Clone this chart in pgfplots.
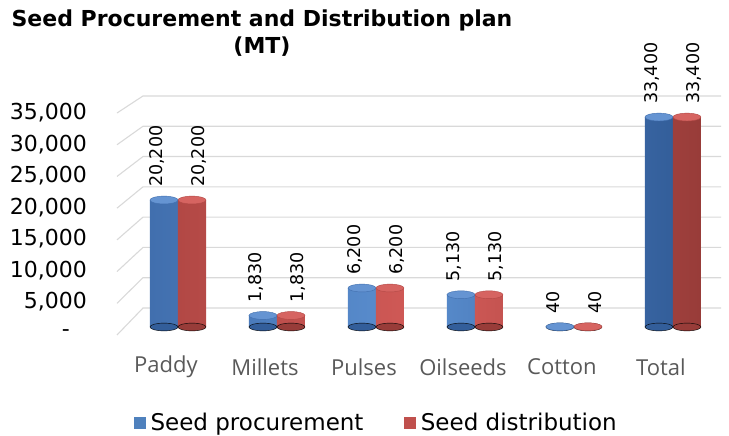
\documentclass[border=0pt]{standalone}
\usepackage{pgfplots}
\usepackage{pgfplotstable}
\pgfplotsset{compat=1.18}
\usepackage{fontspec}
\setmainfont{DejaVu Sans}
\newfontfamily\catfont{Open Sans}
\definecolor{bluemid}{HTML}{5B8FD0}
\definecolor{blueedge}{HTML}{416FAE}
\definecolor{bluedark}{HTML}{335E9A}
\definecolor{bluetop}{HTML}{6594D2}
\definecolor{bluelg}{HTML}{4F81BD}
\definecolor{redmid}{HTML}{D35B58}
\definecolor{rededge}{HTML}{B24845}
\definecolor{reddark}{HTML}{983C39}
\definecolor{redtop}{HTML}{D66461}
\definecolor{redlg}{HTML}{C0504D}
\definecolor{gridc}{HTML}{D9D9D9}
\definecolor{labelgrey}{HTML}{595959}

\pgfplotstableread{
x base proc dist
0 0 20200 20200
1 0 1830 1830
2 0 6200 6200
3 0 5130 5130
4 0 40 40
5 0 33400 33400
}\seeddata

\begin{document}
\begin{tikzpicture}[x=1pt,y=1pt]
\useasboundingbox (0,0) rectangle (729,436);
\foreach \v in {0,...,7} {
  \pgfmathsetmacro\f{436-(335-31.71*\v)}
  \pgfmathsetmacro\b{436-(308-30.29*\v)}
  \draw[gridc, line width=1.1pt] (117,\f) -- (143,\b) -- (721,\b);
}
\node[font=\bfseries\fontsize{22}{27}\selectfont, align=center] at (262,403) {Seed Procurement and Distribution plan\\(MT)};
\begin{axis}[
  at={(178pt,109pt)}, anchor=origin, scale only axis,
  width=600pt, height=220pt,
  xmin=-0.586, xmax=5.475, ymin=0, ymax=35000,
  enlargelimits=false,
  scaled y ticks=false,
  clip=false,
  axis line style={draw=none},
  major tick style={draw=none},
  minor tick style={draw=none},
  xtick={0,1,2,3,4,5},
  xticklabels={Paddy,Millets,Pulses,Oilseeds,Cotton,Total},
  xticklabel style={font=\catfont\fontsize{22}{26}\selectfont, text=labelgrey, anchor=center, yshift=-40pt, xshift=-12pt},
  ytick={0,5000,10000,15000,20000,25000,30000,35000},
  yticklabels={{-\rule{17pt}{0pt}},{5,000},{10,000},{15,000},{20,000},{25,000},{30,000},{35,000}},
  yticklabel style={font=\fontsize{22}{26}\selectfont, anchor=east, inner sep=0pt, xshift=-33pt, yshift=-6pt},
  legend style={at={(0.43,-0.436)}, anchor=center, draw=none, fill=none,
    legend columns=2, font=\fontsize{23}{26}\selectfont,
    nodes={inner xsep=5pt, inner ysep=0pt},
    /tikz/every even column/.append style={column sep=36pt}},
]
\addlegendimage{legend image code/.code={\fill[bluelg] (0pt,-5.5pt) rectangle (11pt,5.5pt);}}
\addlegendentry{Seed procurement}
\addlegendimage{legend image code/.code={\fill[redlg] (0pt,-5.5pt) rectangle (11pt,5.5pt);}}
\addlegendentry{Seed distribution}
% bottom ellipses
\addplot[forget plot, only marks, mark=*, mark size=14pt, mark options={xshift=-14pt, yscale=0.28, fill=bluedark, draw=none}] table[x=x,y=base] {\seeddata};
\addplot[forget plot, only marks, mark=*, mark size=14pt, mark options={xshift=14pt, yscale=0.28, fill=reddark, draw=none}] table[x=x,y=base] {\seeddata};
% bars
\addplot[forget plot, ybar, bar width=28pt, bar shift=-14pt, draw=none,
  left color=blueedge, right color=bluedark, middle color=bluemid]
  table[x=x,y=proc] {\seeddata};
\addplot[forget plot, ybar, bar width=28pt, bar shift=14pt, draw=none,
  left color=rededge, right color=reddark, middle color=redmid]
  table[x=x,y=dist] {\seeddata};
% top ellipses with value labels
\addplot[forget plot, only marks, mark=*, mark size=14pt,
  mark options={xshift=-14pt, yscale=0.28, fill=bluetop, draw=blueedge, line width=0.4pt},
  nodes near coords={\pgfmathprintnumber[assume math mode=true,1000 sep={,},fixed,precision=0]{\pgfplotspointmeta}},
  every node near coord/.style={xshift=-7pt, rotate=90, anchor=west, font=\fontsize{17.5}{20}\selectfont, inner xsep=13pt, inner ysep=0pt, text=black}]
  table[x=x,y=proc] {\seeddata};
\addplot[forget plot, only marks, mark=*, mark size=14pt,
  mark options={xshift=14pt, yscale=0.28, fill=redtop, draw=rededge, line width=0.4pt},
  nodes near coords={\pgfmathprintnumber[assume math mode=true,1000 sep={,},fixed,precision=0]{\pgfplotspointmeta}},
  every node near coord/.style={xshift=7pt, rotate=90, anchor=west, font=\fontsize{17.5}{20}\selectfont, inner xsep=13pt, inner ysep=0pt, text=black}]
  table[x=x,y=dist] {\seeddata};
\end{axis}
\end{tikzpicture}
\end{document}
